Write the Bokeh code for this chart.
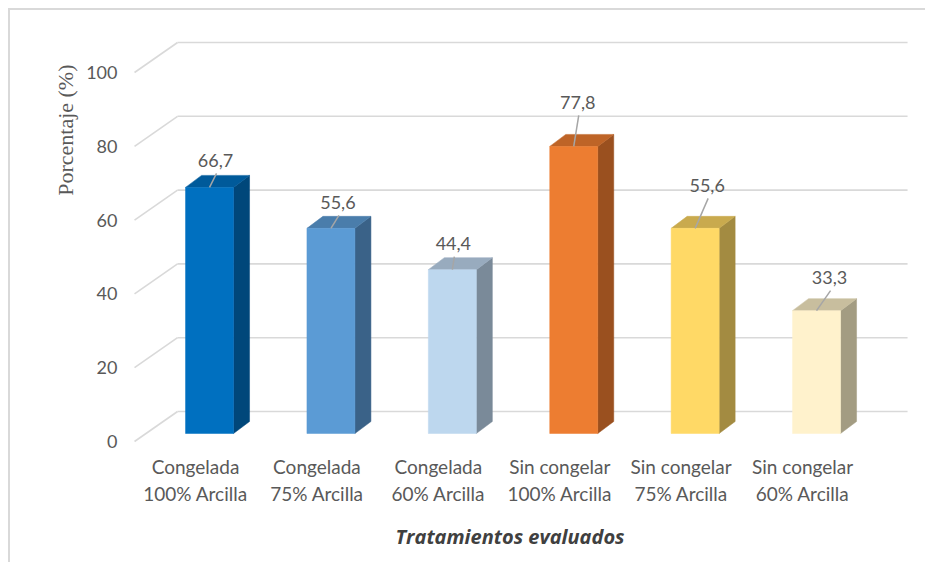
import math
from bokeh.plotting import figure
from bokeh.models import Range1d, LinearAxis, FixedTicker, Title
from bokeh.core.properties import value
from bokeh.embed import file_html
from bokeh.resources import INLINE

# ---- data ----
categories = ["Congelada\n100% Arcilla", "Congelada\n75% Arcilla", "Congelada\n60% Arcilla",
              "Sin congelar\n100% Arcilla", "Sin congelar\n75% Arcilla", "Sin congelar\n60% Arcilla"]
values = [66.7, 55.6, 44.4, 77.8, 55.6, 33.3]
value_labels = ["66,7", "55,6", "44,4", "77,8", "55,6", "33,3"]
y_ticks = [0, 20, 40, 60, 80, 100]

# ---- styles ----
front_colors = ["#0070C0", "#5B9BD5", "#BDD7EE", "#ED7D31", "#FFD966", "#FFF2CC"]
top_colors = ["#005A9A", "#4A7DAB", "#98ABBE", "#BE6427", "#C9AA4E", "#C8BE9E"]
side_colors = ["#00477A", "#3A6288", "#7A8A99", "#9A501F", "#A38B41", "#A39C82"]

PX_X = 121.4   # pixels per category unit
PX_Y = 3.69    # pixels per value unit
# label offsets relative to the front-top centre of each bar (pixels: right, up)
lab_dx = [6, 7, 1, 4, 12, 13]
lab_dy = [27, 26, 26, 44, 43, 33]

half_w = 24 / PX_X
depth_x = 16 / PX_X
depth_y = 12 / PX_Y
front_base = -22 / PX_Y          # bars' front face sits in front of the back wall
front_shift_y = 30 / PX_Y        # front plane (tick labels) vs back wall
wall_x0 = (177 - 209) / PX_X
wall_x1 = (907 - 209) / PX_X
front_x0 = (134 - 209) / PX_X

p = figure(frame_width=785, frame_height=415,
           x_range=Range1d(-0.651, 5.815), y_range=Range1d(-9.21, 103.25),
           x_axis_location=None, y_axis_location=None,
           output_backend="svg", toolbar_location=None,
           min_border_left=120, min_border_right=10, min_border_top=20, min_border_bottom=103,
           styles={"margin-left": "8px", "margin-top": "8px",
                   "border-left": "2px solid #D9D9D9", "border-top": "2px solid #D9D9D9"})
p.outline_line_color = None
p.background_fill_color = "white"
p.border_fill_color = "white"
p.xgrid.visible = False
p.ygrid.visible = False

p.extra_y_ranges = {"front": Range1d(-9.21 + front_shift_y, 103.25 + front_shift_y)}
p.extra_x_ranges = {"front": Range1d(-0.651 + 14 / PX_X, 5.815 + 14 / PX_X)}

# gridlines: back wall + diagonal to front plane
grid_color = "#D9D9D9"
p.segment(x0=[wall_x0] * len(y_ticks), y0=y_ticks, x1=[wall_x1] * len(y_ticks), y1=y_ticks,
          line_color=grid_color, line_width=1.6)
p.segment(x0=[front_x0] * len(y_ticks), y0=[t - front_shift_y for t in y_ticks],
          x1=[wall_x0] * len(y_ticks), y1=y_ticks, line_color=grid_color, line_width=1.6)

# bars (3D look)
xs_idx = list(range(len(values)))
for i, v in enumerate(values):
    l, r = i - half_w, i + half_w
    b, t = front_base, front_base + v
    p.patch(x=[r, r + depth_x, r + depth_x, r], y=[b, b + depth_y, t + depth_y, t],
            fill_color=side_colors[i], line_color=side_colors[i], line_width=0.5)
    p.patch(x=[l, r, r + depth_x, l + depth_x], y=[t, t, t + depth_y, t + depth_y],
            fill_color=top_colors[i], line_color=top_colors[i], line_width=0.5)
    p.quad(left=l, right=r, bottom=b, top=t, fill_color=front_colors[i],
           line_color=front_colors[i], line_width=0.5)

# data labels with leader lines
lx = [i + dx / PX_X for i, dx in zip(xs_idx, lab_dx)]
ly = [front_base + v + dy / PX_Y for v, dy in zip(values, lab_dy)]
p.segment(x0=xs_idx, y0=[front_base + v for v in values],
          x1=[x + 1 / PX_X for x in lx], y1=[y - 13 / PX_Y for y in ly],
          line_color="#A6A6A6", line_width=1.5)
p.text(x=lx, y=ly, text=value_labels, text_font=value("Lato"), text_font_size="18px",
       text_color="#595959", text_align="center", text_baseline="middle")

# axes
yaxis = LinearAxis(y_range_name="front", ticker=FixedTicker(ticks=y_ticks))
yaxis.axis_line_color = None
yaxis.major_tick_line_color = None
yaxis.minor_tick_line_color = None
yaxis.major_label_standoff = 7
yaxis.major_label_text_font = "Lato"
yaxis.major_label_text_font_size = "18px"
yaxis.major_label_text_color = "#595959"
p.add_layout(yaxis, "left")

p.add_layout(Title(text="Porcentaje (%)", align="right", offset=34, standoff=12,
                   text_font="Liberation Serif", text_font_size="22px", text_font_style="normal",
                   text_color="#595959"), "left")

xaxis = LinearAxis(x_range_name="front", ticker=FixedTicker(ticks=xs_idx),
                   major_label_overrides={i: c for i, c in enumerate(categories)})
xaxis.axis_line_color = None
xaxis.major_tick_line_color = None
xaxis.minor_tick_line_color = None
xaxis.major_label_standoff = 3
xaxis.major_label_text_font = "Lato"
xaxis.major_label_text_font_size = "19px"
xaxis.major_label_text_color = "#595959"
p.add_layout(xaxis, "below")

p.add_layout(Title(text="Tratamientos evaluados", align="left", offset=265, standoff=25,
                   text_font="Open Sans", text_font_size="20px", text_font_style="bold italic",
                   text_color="#404040"), "below")

open("out.html", "w").write(file_html(p, INLINE))
